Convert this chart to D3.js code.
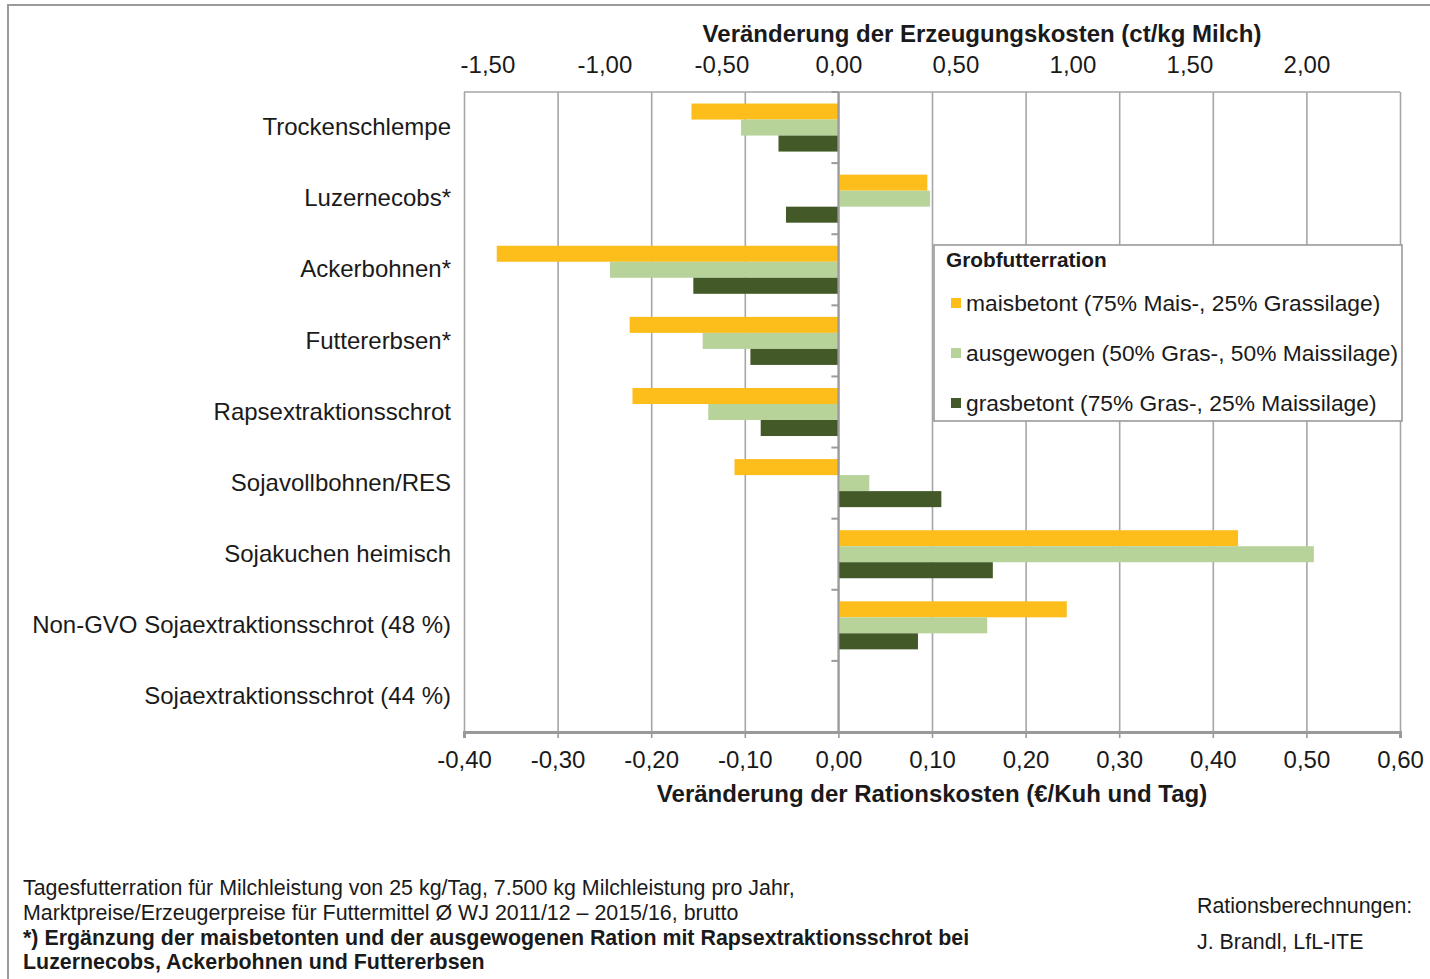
<!DOCTYPE html>
<html>
<head>
<meta charset="utf-8">
<title>Rationskosten</title>
<script src="https://cdn.jsdelivr.net/npm/d3@7/dist/d3.min.js"></script>
<style>
    body { margin: 0; background: #fff; }
    svg text { font-family: "Liberation Sans", Arial, sans-serif; fill: #1a1a1a; }
</style>
</head>
<body>
<script>
// chart data (values in euro per cow and day)
var categories = ["Trockenschlempe", "Luzernecobs*", "Ackerbohnen*", "Futtererbsen*", "Rapsextraktionsschrot", "Sojavollbohnen/RES", "Sojakuchen heimisch", "Non-GVO Sojaextraktionsschrot (48 %)", "Sojaextraktionsschrot (44 %)"];
var seriesKeys = ["mais", "ausg", "gras"];
var seriesLabels = ["maisbetont (75% Mais-, 25% Grassilage)", "ausgewogen (50% Gras-, 50% Maissilage)", "grasbetont (75% Gras-, 25% Maissilage)"];
var seriesColors = ["#fdbd1a", "#b7d39a", "#435a28"];
var maisbetont = [-0.157, 0.095, -0.365, -0.223, -0.220, -0.111, 0.427, 0.244, 0];
var ausgewogen = [-0.104, 0.098, -0.244, -0.145, -0.139, 0.033, 0.508, 0.159, 0];
var grasbetont = [-0.064, -0.056, -0.155, -0.094, -0.083, 0.110, 0.165, 0.085, 0];
var bottomTicks = [-0.4, -0.3, -0.2, -0.1, 0, 0.1, 0.2, 0.3, 0.4, 0.5, 0.6];
var topTicks = [-1.5, -1.0, -0.5, 0, 0.5, 1.0, 1.5, 2.0];
var footLines = ["Tagesfutterration für Milchleistung von 25 kg/Tag, 7.500 kg Milchleistung pro Jahr,", "Marktpreise/Erzeugerpreise für Futtermittel Ø WJ 2011/12 – 2015/16, brutto", "*) Ergänzung der maisbetonten und der ausgewogenen Ration mit Rapsextraktionsschrot bei", "Luzernecobs, Ackerbohnen und Futtererbsen"];
var creditLines = ["Rationsberechnungen:", "J. Brandl, LfL-ITE"];

window.onload = setChart;

function setChart(){
    var width = 1430,
        height = 979;

    //plot area
    var left = 464, right = 1400, top = 92, bottom = 732;

    var svg = d3.select("body")
        .append("svg")
        .attr("width", width)
        .attr("height", height);

    //german number format, plain hyphen as minus
    var de = d3.formatLocale({decimal: ",", thousands: ".", grouping: [3], currency: ["", " €"], minus: "-"});
    var fmt = de.format(".2f");

    //outer frame (top and left edge only visible)
    svg.append("path")
        .attr("d", "M8," + height + "V5H" + width)
        .attr("fill", "none")
        .attr("stroke", "#9a9a9a")
        .attr("stroke-width", 2);

    var x = d3.scaleLinear().domain([-0.4, 0.6]).range([left, right]);
    //ct/kg milk = euro/day * 100 / 25 kg
    var xTop = d3.scaleLinear().domain([-1.6, 2.4]).range([left, right]);
    var y = d3.scaleBand().domain(categories).range([top, bottom]);
    var ySub = d3.scaleBand().domain(seriesKeys).range([0, y.bandwidth()]).paddingOuter(0.72);

    //gridlines
    svg.append("g")
        .attr("transform", "translate(0," + bottom + ")")
        .call(d3.axisBottom(x).tickValues(bottomTicks).tickSize(-(bottom - top)).tickFormat(""))
        .call(function(g){
            g.select(".domain").remove();
            g.selectAll("line").attr("stroke", "#a6a6a8").attr("stroke-width", 1.6);
        });

    //top border of plot area
    svg.append("line")
        .attr("x1", left).attr("x2", right)
        .attr("y1", top).attr("y2", top)
        .attr("stroke", "#a6a6a8").attr("stroke-width", 1.6);

    //bars
    var rows = categories.map(function(c, i){
        return {cat: c, mais: maisbetont[i], ausg: ausgewogen[i], gras: grasbetont[i]};
    });

    var groups = svg.selectAll(".row")
        .data(rows)
        .enter()
        .append("g")
        .attr("class", "row")
        .attr("transform", function(d){ return "translate(0," + y(d.cat) + ")"; });

    groups.selectAll("rect")
        .data(function(d){
            return seriesKeys.map(function(k, j){ return {key: k, value: d[k], color: seriesColors[j]}; });
        })
        .enter()
        .append("rect")
        .attr("x", function(d){ return x(Math.min(0, d.value)); })
        .attr("width", function(d){ return Math.abs(x(d.value) - x(0)); })
        .attr("y", function(d){ return ySub(d.key); })
        .attr("height", ySub.bandwidth())
        .attr("fill", function(d){ return d.color; });

    //vertical zero axis with small ticks at category borders
    var zeroAxis = svg.append("g");
    zeroAxis.append("line")
        .attr("x1", x(0)).attr("x2", x(0))
        .attr("y1", top).attr("y2", bottom)
        .attr("stroke", "#9a9a9c").attr("stroke-width", 2);
    zeroAxis.selectAll(".ytick")
        .data(d3.range(categories.length + 1))
        .enter()
        .append("line")
        .attr("class", "ytick")
        .attr("x1", x(0) - 7).attr("x2", x(0))
        .attr("y1", function(i){ return top + i * y.step(); })
        .attr("y2", function(i){ return top + i * y.step(); })
        .attr("stroke", "#9a9a9c").attr("stroke-width", 2);

    //category labels
    svg.append("g")
        .attr("transform", "translate(" + left + ",0)")
        .call(d3.axisLeft(y).tickSize(0).tickPadding(13))
        .call(function(g){
            g.select(".domain").remove();
            g.selectAll("text").style("font-size", "24px").style("fill", "#1a1a1a");
        });

    //bottom axis
    svg.append("g")
        .attr("transform", "translate(0," + bottom + ")")
        .call(d3.axisBottom(x).tickValues(bottomTicks).tickFormat(fmt).tickSize(6).tickPadding(13))
        .call(function(g){
            g.select(".domain").attr("stroke", "#9a9a9c").attr("stroke-width", 3);
            g.selectAll("line").attr("stroke", "#9a9a9c").attr("stroke-width", 1.6);
            g.selectAll("text").style("font-size", "24px").style("fill", "#1a1a1a");
        });

    //top axis (labels only)
    svg.append("g")
        .attr("transform", "translate(0," + top + ")")
        .call(d3.axisTop(xTop).tickValues(topTicks).tickFormat(fmt).tickSize(0).tickPadding(19))
        .call(function(g){
            g.select(".domain").remove();
            g.selectAll("text").style("font-size", "24px").style("fill", "#1a1a1a");
        });

    //axis titles
    svg.append("text")
        .attr("x", 982).attr("y", 42)
        .attr("text-anchor", "middle")
        .style("font-size", "24px").style("font-weight", "bold")
        .text("Veränderung der Erzeugungskosten (ct/kg Milch)");

    svg.append("text")
        .attr("x", 932).attr("y", 802)
        .attr("text-anchor", "middle")
        .style("font-size", "24px").style("font-weight", "bold")
        .text("Veränderung der Rationskosten (€/Kuh und Tag)");

    //legend
    var legend = svg.append("g").attr("transform", "translate(934,245)");
    legend.append("rect")
        .attr("width", 468).attr("height", 176)
        .attr("fill", "#fff")
        .attr("stroke", "#9a9a9c").attr("stroke-width", 1.6);
    legend.append("text")
        .attr("x", 12).attr("y", 22)
        .style("font-size", "20.8px").style("font-weight", "bold")
        .text("Grobfutterration");
    var items = legend.selectAll(".item")
        .data(seriesLabels)
        .enter()
        .append("g")
        .attr("class", "item")
        .attr("transform", function(d, i){ return "translate(0," + (58 + i * 50) + ")"; });
    items.append("rect")
        .attr("x", 17).attr("y", -5)
        .attr("width", 10).attr("height", 10)
        .attr("fill", function(d, i){ return seriesColors[i]; });
    items.append("text")
        .attr("x", 32).attr("y", 8)
        .style("font-size", "22.8px")
        .text(function(d){ return d; });

    //footnotes
    svg.selectAll(".foot")
        .data(footLines)
        .enter()
        .append("text")
        .attr("class", "foot")
        .attr("x", 23)
        .attr("y", function(d, i){ return 895 + i * 24.8; })
        .style("font-size", "21.4px")
        .style("font-weight", function(d, i){ return i > 1 ? "bold" : "normal"; })
        .text(function(d){ return d; });

    svg.selectAll(".credit")
        .data(creditLines)
        .enter()
        .append("text")
        .attr("class", "credit")
        .attr("x", 1197)
        .attr("y", function(d, i){ return 913 + i * 36; })
        .style("font-size", "21.4px")
        .text(function(d){ return d; });
};
</script>
</body>
</html>
